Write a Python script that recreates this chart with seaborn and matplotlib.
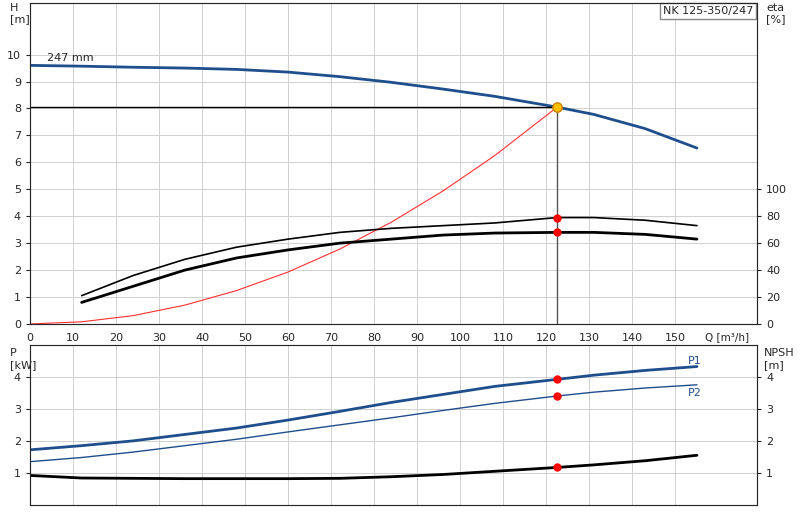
import matplotlib
matplotlib.use("Agg")
import matplotlib.pyplot as plt
import seaborn as sns
import pandas as pd

q = [12, 24, 36, 48, 60, 72, 84, 96, 108, 122.5, 131, 143, 155]
q0 = [0] + q
head = [9.6, 9.57, 9.53, 9.5, 9.45, 9.35, 9.18, 8.97, 8.72, 8.45, 8.05, 7.78, 7.25, 6.53]
eta_low = [16, 28, 40, 49, 55, 60, 63, 66, 67.5, 68, 68, 66.5, 63]
eta_up = [21, 36, 48, 57, 63, 68, 71, 73, 75, 79, 79, 77, 73]
q_sys = [0, 12, 24, 36, 48, 60, 72, 84, 96, 108, 122.5]
h_sys = [0, 0.08, 0.31, 0.7, 1.24, 1.93, 2.78, 3.78, 4.94, 6.25, 8.05]
p1 = [1.72, 1.85, 2.0, 2.2, 2.4, 2.65, 2.92, 3.2, 3.45, 3.7, 3.92, 4.05, 4.2, 4.32]
p2 = [1.35, 1.48, 1.65, 1.85, 2.05, 2.28, 2.5, 2.72, 2.95, 3.17, 3.4, 3.52, 3.65, 3.75]
npsh = [0.92, 0.84, 0.83, 0.82, 0.82, 0.82, 0.83, 0.88, 0.95, 1.05, 1.17, 1.25, 1.38, 1.55]
q_dp = 122.5
h_dp, eta_dp1, eta_dp2, p1_dp, p2_dp, npsh_dp = 8.05, 79, 68, 3.92, 3.4, 1.17

sns.set_style("white")
plt.rcParams['font.family'] = ['DejaVu Sans']
blue = "#1f4e8c"
fig = plt.figure(figsize=(8, 5.2), dpi=100)
L, W = 0.0375, 0.909
ax = fig.add_axes([L, 0.377, W, 0.618])
axe = ax.twinx()
bx = fig.add_axes([L, 0.029, W, 0.308])
bx2 = bx.twinx()

grid = dict(color="#d0d0d0", lw=0.7)
for a in (ax, bx):
    a.set_xlim(0, 169)
    a.set_xticks(range(0, 160, 10))
    a.grid(True, **grid)
    a.tick_params(labelsize=8, length=3)
    for s in a.spines.values():
        s.set_color("#888888")
ax.set_ylim(0, 11.93)
ax.set_yticks(range(0, 11))
axe.set_ylim(0, 238.6)
axe.set_yticks(range(0, 101, 20))
axe.tick_params(labelsize=8, length=3)
bx.set_ylim(0, 5)
bx.set_yticks(range(1, 5))
bx2.set_ylim(0, 5)
bx2.set_yticks(range(1, 5))
bx2.tick_params(labelsize=8, length=3)
bx.set_xticklabels([])
ax.set_xticklabels([str(v) for v in range(0, 160, 10)])
ax.text(162, -0.3, "Q [m³/h]", fontsize=7.5, va="top", ha="center")

sns.lineplot(x=q0, y=head, ax=ax, color=blue, lw=2)
sns.lineplot(x=q_sys, y=h_sys, ax=ax, color="#ff3030", lw=0.8)
sns.lineplot(x=q, y=eta_up, ax=axe, color="black", lw=1.2)
sns.lineplot(x=q, y=eta_low, ax=axe, color="black", lw=2)
ax.plot([0, q_dp], [h_dp, h_dp], color="black", lw=1)
ax.plot([q_dp, q_dp], [0, h_dp], color="#555555", lw=1)
ax.scatter([q_dp], [h_dp], s=45, color="#ffc000", edgecolor="#d08000", zorder=5)
axe.scatter([q_dp, q_dp], [eta_dp1, eta_dp2], s=25, color="red", zorder=5)
ax.text(4, 9.75, "247 mm", fontsize=8)

sns.lineplot(x=q0, y=p1, ax=bx, color=blue, lw=2)
sns.lineplot(x=q0, y=p2, ax=bx, color=blue, lw=1)
sns.lineplot(x=q0, y=npsh, ax=bx2, color="black", lw=2)
bx.scatter([q_dp, q_dp], [p1_dp, p2_dp], s=25, color="red", zorder=5)
bx2.scatter([q_dp], [npsh_dp], s=25, color="red", zorder=5)
bx.text(153, 4.4, "P1", fontsize=8, color=blue)
bx.text(153, 3.4, "P2", fontsize=8, color=blue)

fig.text(0.012, 0.995, "H\n[m]", fontsize=8, va="top")
fig.text(0.958, 0.995, "eta\n[%]", fontsize=8, va="top")
fig.text(0.012, 0.33, "P\n[kW]", fontsize=8, va="top")
fig.text(0.955, 0.33, "NPSH\n[m]", fontsize=8, va="top")
ax.text(0.995, 0.99, "NK 125-350/247", transform=ax.transAxes, fontsize=8, ha="right", va="top",
        bbox=dict(facecolor="white", edgecolor="#888888", pad=2))
for a in (ax, axe, bx, bx2):
    a.set_xlabel(""); a.set_ylabel("")
fig.savefig("out.png", dpi=100)
